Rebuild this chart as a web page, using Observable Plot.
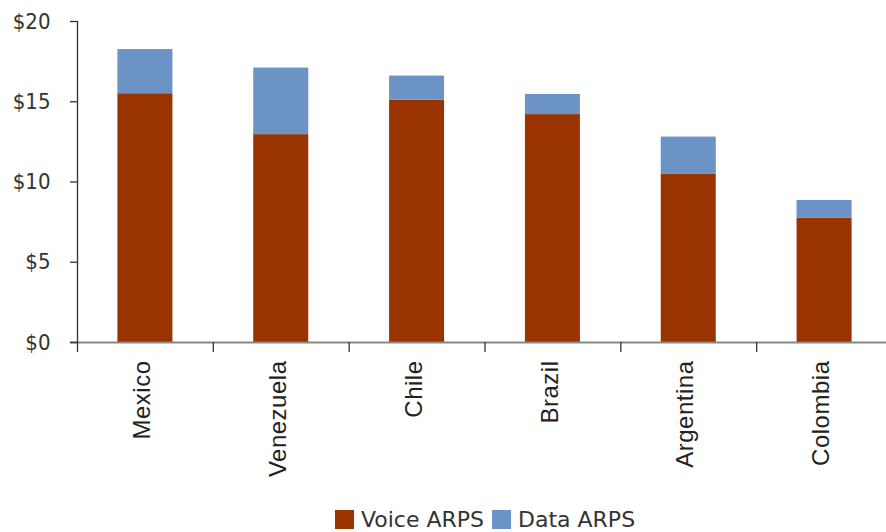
<!DOCTYPE html>
<html>
<head>
<meta charset="utf-8">
<script src="https://cdn.jsdelivr.net/npm/d3@7"></script>
<script src="https://cdn.jsdelivr.net/npm/@observablehq/plot@0.6"></script>
<style>
  html, body { margin: 0; padding: 0; background: #fff; overflow: hidden; width: 886px; height: 532px; position: relative; }
  #chart svg { display: block; }
  .legend { position: absolute; left: 0; top: 504px; width: 886px; display: flex; justify-content: center; align-items: center; height: 30px; font-family: "DejaVu Sans", sans-serif; font-size: 22px; color: #333; padding-left: 84px; box-sizing: border-box; }
  .legend .sw { display: inline-block; width: 19px; height: 19px; margin-right: 7px; }
  .legend .item { display: flex; align-items: center; margin: 0 4px; }
</style>
</head>
<body>
<div id="chart"></div>
<script>
const countries = ["Mexico", "Venezuela", "Chile", "Brazil", "Argentina", "Colombia"];
const voiceARPS = [15.5, 12.95, 15.1, 14.2, 10.5, 7.75];
const dataARPS = [2.75, 4.15, 1.5, 1.25, 2.3, 1.1];
const seriesNames = ["Voice ARPS", "Data ARPS"];
const seriesColors = ["#993300", "#6b93c6"];
const yTicks = [0, 5, 10, 15, 20];

const rows = [];
countries.forEach((c, i) => {
  rows.push({country: c, series: seriesNames[0], value: voiceARPS[i]});
  rows.push({country: c, series: seriesNames[1], value: dataARPS[i]});
});

const W = 886, H = 495;
const xRange = [77, 892];
const step = (xRange[1] - xRange[0]) / countries.length;

const plot = Plot.plot({
  width: W,
  height: H,
  marginLeft: 77,
  marginRight: 0,
  marginTop: 21,
  marginBottom: 153,
  style: {background: "#fff", overflow: "visible"},
  x: {domain: countries, range: xRange, round: false, paddingInner: 0.595, paddingOuter: 0.2975, label: null},
  y: {domain: [0, 20], label: null},
  color: {domain: seriesNames, range: seriesColors},
  marks: [
    Plot.barY(rows, Plot.stackY({x: "country", y: "value", fill: "series", order: seriesNames})),
    Plot.ruleY([0], {stroke: "#888", strokeWidth: 2, insetLeft: -7}),
    Plot.ruleX([countries[0]], {dx: -step / 2, y1: 0, y2: 20, stroke: "#333", strokeWidth: 1.3}),
    Plot.axisY({ticks: yTicks, tickSize: 7, tickPadding: 20, tickFormat: d => "$" + d,
      fontSize: 22, fontFamily: "DejaVu Sans Condensed, DejaVu Sans, sans-serif", fill: "#333", stroke: "#333", strokeWidth: 1.3, label: null}),
    Plot.axisX({tickSize: 10, dx: -step / 2, text: null, stroke: "#333", strokeWidth: 1.3, label: null}),
    Plot.axisX({tickSize: 0, tickPadding: 18, tickRotate: -90, fontSize: 24, fontFamily: "Liberation Sans, Arial, sans-serif",
      fill: "#222", dx: -3, label: null})
  ]
});
plot.querySelectorAll("text").forEach(t => {
  if (t.closest("g[aria-label='x-axis tick label']")) t.style.letterSpacing = "0.5px";
});
document.getElementById("chart").appendChild(plot);

const legend = document.createElement("div");
legend.className = "legend";
seriesNames.forEach((n, i) => {
  const it = document.createElement("span");
  it.className = "item";
  const sw = document.createElement("span");
  sw.className = "sw";
  sw.style.background = seriesColors[i];
  it.appendChild(sw);
  it.appendChild(document.createTextNode(n));
  legend.appendChild(it);
});
document.body.appendChild(legend);
</script>
</body>
</html>
